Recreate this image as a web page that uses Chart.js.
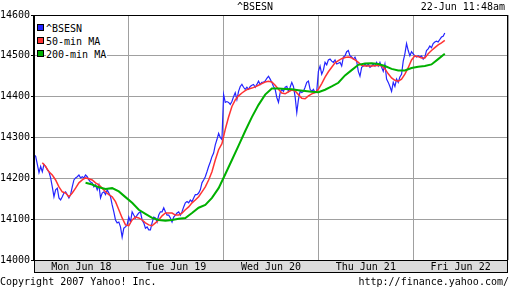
<!DOCTYPE html>
<html>
<head>
<meta charset="utf-8">
<script src="https://cdn.jsdelivr.net/npm/chart.js@4/dist/chart.umd.min.js"></script>
<style>
  body { margin: 0; background: #fff; }
  #wrap { position: relative; width: 512px; height: 288px; font: 10px 'DejaVu Sans Mono', monospace; color: #000; }
  #wrap canvas { position: absolute; left: 0; top: 0; }
  .txt { position: absolute; line-height: 12px; white-space: pre; }
  #legend { position: absolute; left: 37px; top: 22px; }
  #legend .item { display: block; height: 13px; line-height: 13px; }
  #legend .item span { background: #fff; padding-right: 1px; }
  #legend .sw { display: inline-block; width: 5px; height: 5px; border: 1px solid #000; margin-right: 2px; vertical-align: 1px; }
</style>
</head>
<body>
<div id="wrap">
  <canvas id="chart" width="512" height="288"></canvas>
  <div class="txt" style="left:0;width:510px;top:1px;text-align:center">^BSESN</div>
  <div class="txt" style="right:7px;top:1px">22-Jun 11:48am</div>
  <div id="legend">
    <div class="item"><i class="sw" style="background:#2424ff"></i><span>^BSESN</span></div>
    <div class="item"><i class="sw" style="background:#ff3333"></i><span>50-min MA</span></div>
    <div class="item"><i class="sw" style="background:#00b000"></i><span>200-min MA</span></div>
  </div>
  <div class="txt" style="left:0;top:276px">Copyright 2007 Yahoo! Inc.</div>
  <div class="txt" style="right:3px;top:276px">http://finance.yahoo.com/</div>
</div>
<script>
// each trading day is split into 57 slots, x axis runs over 5 days
const SLOTS = 57
const dayLabels = ['Mon Jun 18', 'Tue Jun 19', 'Wed Jun 20', 'Thu Jun 21', 'Fri Jun 22']
const yTicks = [14000, 14100, 14200, 14300, 14400, 14500, 14600]

// ^BSESN, one value per slot
const blueMon = [14258, 14254, 14234, 14214, 14229, 14216, 14234, 14229, 14221, 14216, 14201, 14179, 14155, 14172, 14176, 14152, 14147, 14155, 14164, 14167,
  14160, 14152, 14160, 14179, 14196, 14201, 14204, 14208, 14201, 14204, 14201, 14208, 14204, 14196, 14191, 14189, 14179, 14184, 14172, 14184,
  14152, 14164, 14167, 14160, 14172, 14164, 14155, 14135, 14118, 14098, 14091, 14093, 14081, 14056, 14078, 14081, 14086]
const blueTue = [14105, 14093, 14118, 14110, 14103, 14110, 14115, 14118, 14098, 14091, 14078, 14081, 14074, 14074, 14091, 14105, 14103, 14093, 14110, 14118,
  14118, 14128, 14118, 14110, 14110, 14103, 14093, 14105, 14110, 14115, 14118, 14110, 14118, 14130, 14140, 14143, 14140, 14147, 14143, 14152,
  14160, 14160, 14164, 14172, 14189, 14196, 14204, 14216, 14229, 14240, 14253, 14262, 14282, 14295, 14310, 14300, 14295]
const blueWed = [14405, 14386, 14388, 14386, 14381, 14388, 14400, 14410, 14393, 14413, 14425, 14430, 14423, 14418, 14423, 14418, 14425, 14428, 14430, 14423,
  14430, 14438, 14430, 14435, 14436, 14438, 14445, 14450, 14443, 14435, 14425, 14418, 14398, 14386, 14410, 14418, 14413, 14423, 14425, 14413,
  14423, 14435, 14425, 14400, 14361, 14393, 14413, 14410, 14413, 14423, 14435, 14438, 14418, 14413, 14418, 14410, 14413]
const blueThu = [14462, 14475, 14455, 14465, 14484, 14478, 14490, 14492, 14487, 14484, 14490, 14480, 14482, 14484, 14475, 14497, 14500, 14510, 14513, 14500,
  14497, 14492, 14497, 14487, 14462, 14450, 14472, 14475, 14480, 14475, 14480, 14472, 14475, 14480, 14475, 14484, 14475, 14484, 14472, 14462,
  14480, 14443, 14435, 14425, 14413, 14435, 14425, 14443, 14435, 14448, 14455, 14487, 14505, 14530, 14513, 14500, 14510]
const blueFri = [14505, 14500, 14497, 14500, 14497, 14500, 14492, 14497, 14513, 14517, 14524, 14520, 14530, 14534, 14536, 14534, 14540, 14546, 14548, 14556]

// 50-min MA, every second slot
const redMon = [14238, 14229, 14216, 14208, 14196, 14179, 14167, 14164, 14155, 14164, 14176, 14189, 14196, 14201, 14199, 14196, 14189, 14184, 14176, 14167,
  14160, 14155, 14143, 14123, 14103, 14086]
const redTue = [14084, 14098, 14105, 14103, 14098, 14091, 14086, 14084, 14091, 14098, 14108, 14115, 14115, 14115, 14110, 14110, 14115, 14123, 14130, 14140,
  14147, 14155, 14167, 14179, 14196, 14216, 14245, 14270, 14285]
const redWed = [14320, 14350, 14376, 14392, 14402, 14409, 14415, 14419, 14421, 14424, 14428, 14432, 14436, 14438, 14436, 14428, 14418, 14409, 14407, 14412,
  14416, 14414, 14405, 14396, 14395, 14402, 14407, 14410]
const redThu = [14418, 14432, 14448, 14461, 14472, 14483, 14488, 14493, 14496, 14497, 14495, 14490, 14484, 14477, 14475, 14475, 14475, 14476, 14477, 14476,
  14468, 14456, 14446, 14440, 14438, 14443, 14455, 14471, 14490]
const redFri = [14500, 14498, 14495, 14495, 14505, 14513, 14520, 14527, 14532, 14538]

// 200-min MA, every fourth slot from slot 31
const green = [14189, 14185, 14178, 14174, 14176, 14168, 14154, 14140, 14123, 14113, 14103, 14098, 14096, 14098, 14101, 14103, 14115, 14128, 14135, 14152,
  14176, 14210, 14245, 14280, 14316, 14350, 14380, 14405, 14420, 14420, 14419, 14418, 14416, 14414, 14412, 14411, 14417, 14425, 14434, 14452,
  14465, 14478, 14481, 14482, 14480, 14475, 14468, 14464, 14464, 14470, 14473, 14475, 14479, 14492, 14505]

function toPoints(parts, step) {
  const pts = []
  parts.forEach(([start, values]) => {
    values.forEach((v, i) => pts.push({x: start + i * step, y: v}))
  })
  return pts
}

const bluePts = toPoints([[0, blueMon], [SLOTS, blueTue], [SLOTS * 2, blueWed], [SLOTS * 3, blueThu], [SLOTS * 4, blueFri]], 1)
const redPts = toPoints([[5, redMon], [SLOTS, redTue], [SLOTS * 2 + 1, redWed], [SLOTS * 3, redThu], [SLOTS * 4 + 1, redFri]], 2)
const greenPts = toPoints([[31, green]], 4)

const mono = {family: "'DejaVu Sans Mono', monospace", size: 10}

// grey band under the plot for the day names, plus the black frame
const framePlugin = {
  id: 'frame',
  beforeDraw(chart) {
    const c = chart.ctx
    const s = chart.scales.days
    c.save()
    c.fillStyle = '#dcdcdc'
    c.fillRect(s.left, s.top, s.width, s.height)
    c.strokeStyle = '#000'
    c.lineWidth = 1
    c.strokeRect(s.left + 0.5, s.top + 0.5, s.width - 1, s.height - 1)
    c.restore()
  },
  afterDatasetsDraw(chart) {
    const c = chart.ctx
    const a = chart.chartArea
    c.save()
    c.strokeStyle = '#000'
    c.lineWidth = 1
    c.strokeRect(a.left + 0.5, a.top + 0.5, a.right - a.left - 1, a.bottom - a.top)
    c.beginPath()
    c.moveTo(a.left - 0.5, a.top)
    c.lineTo(a.left - 0.5, a.bottom)
    c.stroke()
    c.restore()
  }
}

new Chart(document.getElementById('chart'), {
  type: 'line',
  data: {
    datasets: [
      {label: '200-min MA', data: greenPts, borderColor: '#00b000', borderWidth: 2},
      {label: '50-min MA', data: redPts, borderColor: '#ff3333', borderWidth: 1.5},
      {label: '^BSESN', data: bluePts, borderColor: '#2424ff', borderWidth: 1.2}
    ]
  },
  options: {
    responsive: false,
    animation: false,
    events: [],
    elements: {point: {radius: 0}, line: {tension: 0}},
    layout: {padding: {top: 15, right: 4, bottom: 15, left: 0}},
    plugins: {legend: {display: false}, tooltip: {enabled: false}},
    scales: {
      x: {
        type: 'linear',
        min: 0,
        max: SLOTS * 5,
        ticks: {display: false, stepSize: SLOTS},
        grid: {color: '#a0a0a0', drawTicks: false},
        border: {display: false},
        afterFit(scale) { scale.height = 0 }
      },
      days: {
        type: 'category',
        position: 'bottom',
        labels: dayLabels,
        offset: true,
        grid: {display: false, drawTicks: false},
        border: {display: false},
        ticks: {color: '#000', font: mono, padding: 1, maxRotation: 0, autoSkip: false},
        afterFit(scale) { scale.height = 13 }
      },
      y: {
        min: yTicks[0],
        max: yTicks[yTicks.length - 1],
        afterBuildTicks(scale) { scale.ticks = yTicks.map(v => ({value: v})) },
        ticks: {color: '#000', font: mono, padding: 1, callback: v => String(v)},
        grid: {color: '#a0a0a0', tickColor: '#000', tickLength: 3},
        border: {display: false},
        afterFit(scale) { scale.width = 34 }
      }
    }
  },
  plugins: [framePlugin]
})
</script>
</body>
</html>
